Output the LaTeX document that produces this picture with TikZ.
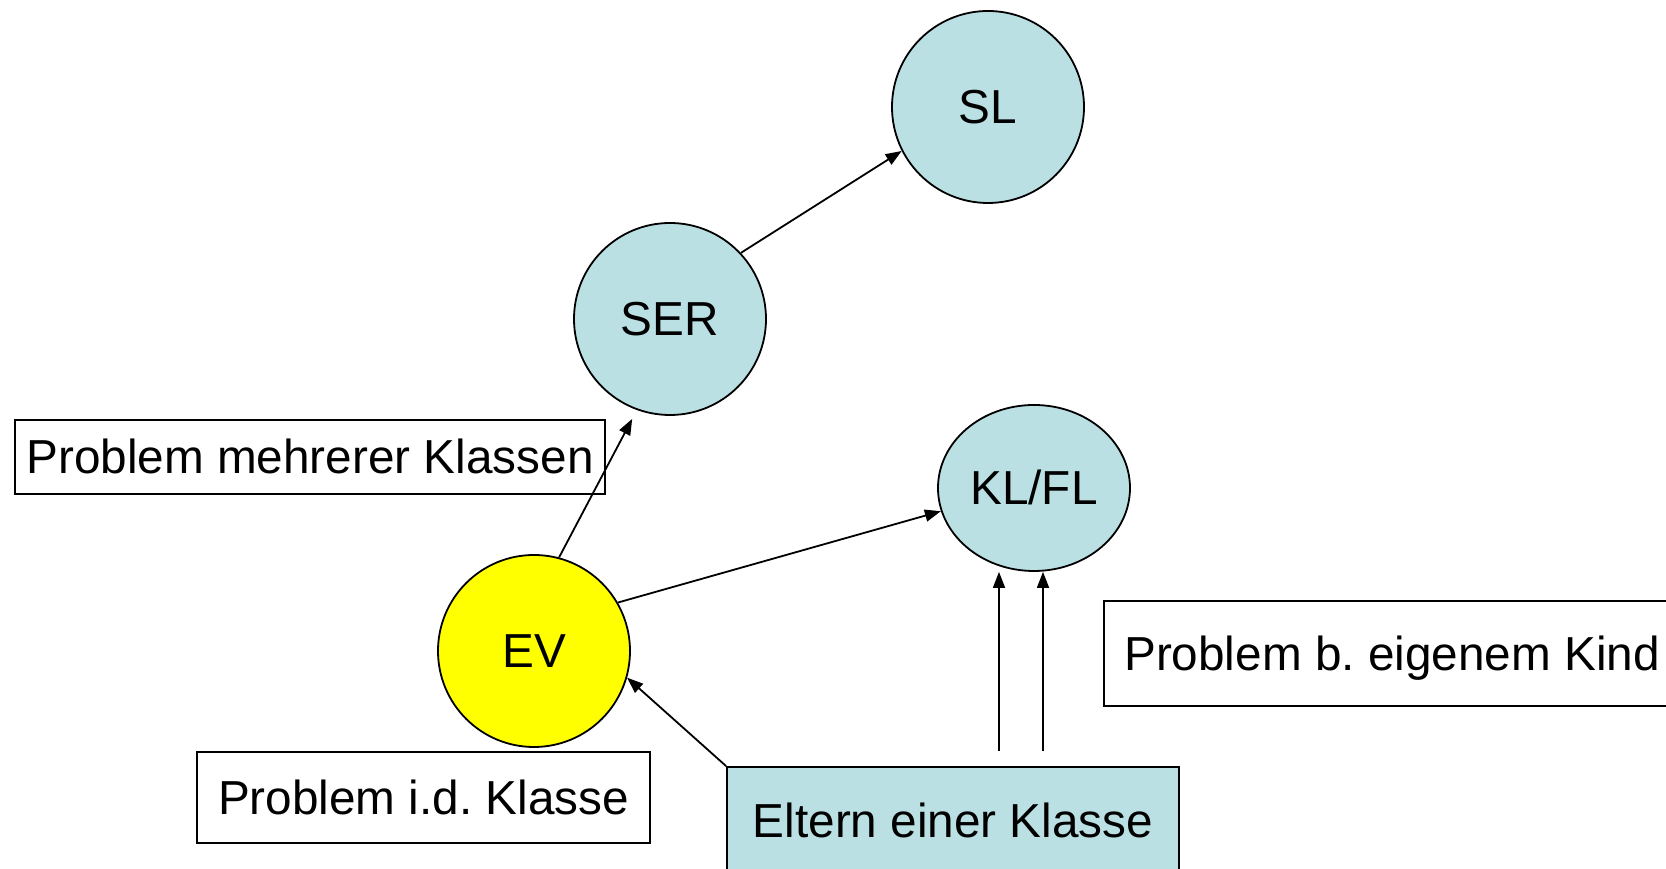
\documentclass[tikz,border=0pt]{standalone}
\usepackage{fontspec}
\setmainfont{Liberation Sans}
\usetikzlibrary{arrows.meta,shapes.geometric}
\definecolor{lblue}{HTML}{BBE0E3}
\definecolor{evyellow}{HTML}{FFFF00}
\frenchspacing
\begin{document}
\begin{tikzpicture}[x=1pt,y=1pt,
  every node/.style={font=\fontsize{47.7}{57}\selectfont, text height=34pt, text depth=0pt},
  disc/.style={circle, draw, line width=1.8pt, fill=lblue, minimum size=192pt, inner sep=0pt},
  oval/.style={ellipse, draw, line width=1.8pt, fill=lblue, minimum width=192pt, minimum height=166pt, inner sep=0pt},
  labelbox/.style={rectangle, draw, line width=1.8pt, fill=white, inner sep=0pt},
  arr/.style={-{Triangle[length=16pt,width=12pt]}, line width=1.8pt}
]
\clip (0,0) rectangle (1666,869);
\fill[white] (0,0) rectangle (1666,869);

% roles
\node[disc] (SL)  at (988,762) {SL};
\node[disc] (SER) at (670,550) {SER};
\node[oval] (KL)  at (1034,381) {KL/FL};
\node[disc, fill=evyellow] (EV) at (534,218) {EV};

% problem labels
\node[labelbox, minimum width=590pt, minimum height=74pt] (pm) at (310,412) {Problem mehrerer Klassen};
\node[labelbox, minimum width=453pt, minimum height=91pt] (pk) at (423.5,71.5) {Problem i.d. Klasse};
\node[labelbox, minimum width=576pt, minimum height=105pt] (pe) at (1392,215.5) {Problem b. eigenem Kind};
\node[labelbox, fill=lblue, minimum width=452pt, minimum height=108pt] (Eltern) at (953,48) {Eltern einer Klasse};

% escalation paths
\draw[arr] (SER.43) -- (SL.207);
\draw[arr, shorten >=10pt] (EV.75) -- (SER.250);
\draw[arr] (EV.30) -- (KL.194);
\draw[arr] (Eltern.north west) -- (EV.-16);
\coordinate (e1) at ([xshift=46pt,yshift=15pt]Eltern.north);
\coordinate (e2) at ([xshift=90pt,yshift=15pt]Eltern.north);
\draw[arr] (e1) -- (e1 |- KL.south);
\draw[arr] (e2) -- (e2 |- KL.south);
\end{tikzpicture}
\end{document}
